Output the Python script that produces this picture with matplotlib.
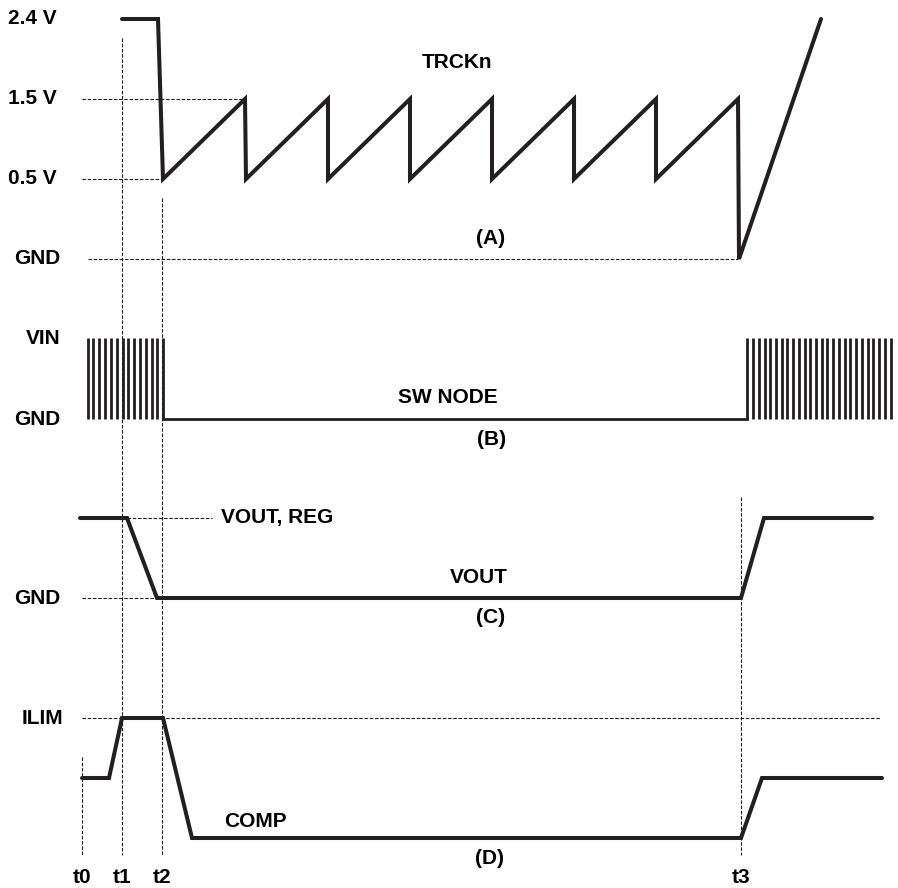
import matplotlib.pyplot as plt

plt.rcParams['font.family'] = ['Liberation Sans', 'DejaVu Sans']
plt.rcParams['font.weight'] = 'bold'

INK = '#231f20'

# time markers (x in drawing time units)
t_names = ['t0', 't1', 't2', 't3']
t_pos = [82, 122, 162, 741]

# (A) TRCKn: level index 0=GND, 1=0.5 V, 2=1.5 V, 3=2.4 V
trck_levels = ['GND', '0.5 V', '1.5 V', '2.4 V']
trck_t = [122, 158, 163, 245, 246, 328, 328, 410, 410, 492, 492, 574, 574,
          656, 656, 738, 739, 821]
trck_v = [3, 3, 1, 2, 1, 2, 1, 2, 1, 2, 1, 2, 1, 2, 1, 2, 0, 3]

# (B) SW NODE: switching pulses before t2 and after t3
sw_levels = ['GND', 'VIN']
sw_pulses_left = [88, 93, 99, 105, 111, 117, 123, 128, 134, 140, 146, 152,
                  157, 163]
sw_pulses_right = [747, 753, 759, 765, 770, 776, 782, 787, 793, 799, 805,
                   810, 816, 822, 827, 833, 839, 845, 850, 856, 862, 868,
                   873, 879, 885, 891]
sw_low_t = [163, 747]

# (C) VOUT: 0=GND, 1=VOUT, REG
vout_t = [80, 127, 157, 741, 764, 872]
vout_v = [1, 1, 0, 0, 1, 1]

# (D) COMP: 0=low, 0.5=steady, 1=ILIM
comp_t = [82, 109, 122, 163, 192, 741, 762, 882]
comp_v = [0.5, 0.5, 1, 1, 0, 0, 0.5, 0.5]

W, H = 898, 888
fig = plt.figure(figsize=(W / 100, H / 100), dpi=100)

# overlay in pixel coords for the time markers
over = fig.add_axes([0, 0, 1, 1])
over.set_xlim(0, W)
over.set_ylim(H, 0)
over.axis('off')


def panel(top, bottom, base, step):
    ax = fig.add_axes([0, 1 - bottom / H, 1, (bottom - top) / H])
    ax.set_xlim(0, W)
    ax.set_ylim((base - bottom) / step, (base - top) / step)
    ax.axis('off')
    ax.patch.set_alpha(0)
    return ax


dash = dict(color=INK, lw=0.8, linestyle=(0, (3.2, 1.5)), clip_on=False)
wave = dict(color=INK, lw=2.9, solid_joinstyle='miter', solid_capstyle='round',
            clip_on=False)
fs = 15

# vertical time marker lines
t_top = [757, 38, 198, 497]
for x, y0 in zip(t_pos, t_top):
    over.plot([x, x], [y0, 855], **dash)
for name, x in zip(t_names, t_pos):
    over.text(x, 877, name, ha='center', va='center', fontsize=fs)

# ---- (A) TRCKn
axA = panel(0, 300, 259, 80)
axA.plot([82, 245], [2, 2], **dash)
axA.plot([82, 163], [1, 1], **dash)
axA.plot([88, 738], [0, 0], **dash)
axA.plot(trck_t, trck_v, **wave)
for i, lab in enumerate(trck_levels):
    axA.text(60 if lab == 'GND' else 57, i, lab, ha='right', va='center', fontsize=fs)
axA.text(457, 2.45, 'TRCKn', ha='center', va='center', fontsize=fs)
axA.text(491, 0.26, '(A)', ha='center', va='center', fontsize=fs)

# ---- (B) SW NODE
axB = panel(300, 470, 419, 81)
axB.vlines(sw_pulses_left + sw_pulses_right, 0, 1, color=INK, lw=2.0)
axB.plot(sw_low_t, [0, 0], color=INK, lw=2.0, clip_on=False)
for i, lab in enumerate(sw_levels):
    axB.text(60, i, lab, ha='right', va='center', fontsize=fs)
axB.text(448, 0.27, 'SW NODE', ha='center', va='center', fontsize=fs)
axB.text(492, -0.25, '(B)', ha='center', va='center', fontsize=fs)

# ---- (C) VOUT
axC = panel(470, 660, 598, 80)
axC.plot([127, 212], [1, 1], **dash)
axC.plot([82, 157], [0, 0], **dash)
axC.plot(vout_t, vout_v, **wave)
axC.text(60, 0, 'GND', ha='right', va='center', fontsize=fs)
axC.text(221, 1.0, 'VOUT, REG', ha='left', va='center', fontsize=fs)
axC.text(479, 0.26, 'VOUT', ha='center', va='center', fontsize=fs)
axC.text(491, -0.24, '(C)', ha='center', va='center', fontsize=fs)

# ---- (D) COMP
axD = panel(660, 888, 838, 120)
axD.plot([82, 880], [1, 1], **dash)
axD.plot(comp_t, comp_v, **wave)
axD.text(63, 1, 'ILIM', ha='right', va='center', fontsize=fs)
axD.text(255, 0.135, 'COMP', ha='center', va='center', fontsize=fs)
axD.text(490, -0.167, '(D)', ha='center', va='center', fontsize=fs)

fig.savefig('out.png', dpi=100)
